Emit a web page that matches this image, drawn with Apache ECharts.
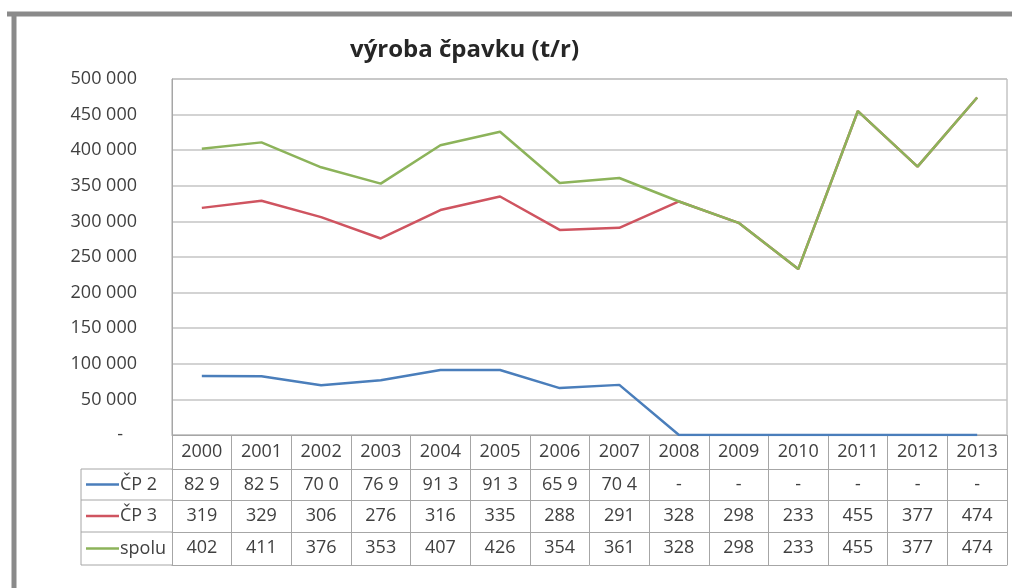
<!DOCTYPE html>
<html>
<head>
<meta charset="utf-8">
<script src="https://cdn.jsdelivr.net/npm/echarts@6/dist/echarts.min.js"></script>
<style>
html,body{margin:0;padding:0;background:#fff}
#main{width:1012px;height:588px}
</style>
</head>
<body>
<div id="main"></div>
<script>
// roky a hodnoty (t/r)
var roky = ['2000','2001','2002','2003','2004','2005','2006','2007','2008','2009','2010','2011','2012','2013'];
var cp2 = [82900,82500,70000,76900,91300,91300,65900,70400,0,0,0,0,0,0];
var cp3 = [319000,329000,306000,276000,316000,335000,288000,291000,328000,298000,233000,455000,377000,474000];
var spolu = [402000,411000,376000,353000,407000,426000,354000,361000,328000,298000,233000,455000,377000,474000];

// texty v tabulke pod grafom
var cp2Txt = ['82 9','82 5','70 0','76 9','91 3','91 3','65 9','70 4','-','-','-','-','-','-'];
var cp3Txt = ['319','329','306','276','316','335','288','291','328','298','233','455','377','474'];
var spoluTxt = ['402','411','376','353','407','426','354','361','328','298','233','455','377','474'];

var nazvy = ['ČP 2','ČP 3','spolu'];
var farby = ['#4a7ebb','#cf5460','#8cb35a'];

var font = '"Open Sans", "Noto Sans", sans-serif';
var sivaText = '#404040';
var sivaCiara = '#a6a6a6';

function formatY(v) {
    if (v === 0) return '-   ';
    return echarts.format.addCommas(v).replace(/,/g, ' ');
}

// riadok tabulky = dalsia os x s offsetom
function riadok(offset, texty) {
    return {
        type: 'category',
        gridIndex: 0,
        position: 'bottom',
        offset: offset,
        data: roky,
        boundaryGap: true,
        axisLine: {show: true, lineStyle: {color: sivaCiara, width: 1}},
        axisTick: {show: false},
        axisLabel: {
            show: !!texty,
            interval: 0,
            margin: 16,
            verticalAlign: 'middle',
            fontSize: 18,
            fontFamily: font,
            color: sivaText,
            formatter: function (v, i) { return texty ? texty[i] : ''; }
        },
        splitLine: {show: false}
    };
}

var riadky = [469, 500, 532, 565];
var grafika = [
    // sivy ram
    {type: 'line', shape: {x1: 7, y1: 14, x2: 1012, y2: 14}, style: {stroke: '#8a8a8a', lineWidth: 5}},
    {type: 'line', shape: {x1: 14, y1: 12, x2: 14, y2: 588}, style: {stroke: '#8a8a8a', lineWidth: 5}},
    {type: 'line', shape: {x1: 81, y1: 469, x2: 81, y2: 565}, style: {stroke: sivaCiara, lineWidth: 1}}
];
for (let y of riadky) {
    grafika.push({type: 'line', shape: {x1: 81, y1: y, x2: 172, y2: y}, style: {stroke: sivaCiara, lineWidth: 1}});
}
for (let i = 0; i < nazvy.length; i++) {
    var yc = (riadky[i] + riadky[i + 1]) / 2;
    grafika.push({type: 'line', shape: {x1: 86, y1: yc, x2: 119, y2: yc}, style: {stroke: farby[i], lineWidth: 2.5}});
    grafika.push({type: 'text', x: 120, y: yc, style: {
        text: nazvy[i], fill: sivaText, font: '18px ' + font, verticalAlign: 'middle', align: 'left'
    }});
}

var myChart = echarts.init(document.getElementById('main'));
var option = {
    animation: false,
    backgroundColor: '#fff',
    title: {
        text: 'výroba čpavku (t/r)',
        left: 345,
        top: 33,
        textStyle: {fontFamily: font, fontSize: 24, fontWeight: 'bold', color: '#262626'}
    },
    grid: {
        left: 172, right: 5, top: 79, bottom: 153,
        show: true, borderColor: sivaCiara, borderWidth: 1,
        outerBoundsMode: 'none'
    },
    xAxis: [
        {
            type: 'category',
            data: roky,
            boundaryGap: true,
            axisLine: {show: true, lineStyle: {color: sivaCiara, width: 1}},
            axisTick: {show: true, interval: 0, length: 130, lineStyle: {color: sivaCiara}},
            axisLabel: {interval: 0, margin: 17, verticalAlign: 'middle', fontSize: 18, fontFamily: font, color: sivaText},
            splitLine: {show: false}
        },
        riadok(34, cp2Txt),
        riadok(65, cp3Txt),
        riadok(97, spoluTxt),
        riadok(130, null)
    ],
    yAxis: {
        type: 'value',
        min: 0,
        max: 500000,
        interval: 50000,
        axisLine: {show: true, lineStyle: {color: sivaCiara}},
        axisTick: {show: false},
        axisLabel: {margin: 35, fontSize: 18, fontFamily: font, color: sivaText, formatter: formatY},
        splitLine: {lineStyle: {color: '#c4c4c4', width: 1.5}}
    },
    graphic: grafika,
    series: [
        {name: nazvy[0], type: 'line', data: cp2, symbol: 'none', lineStyle: {width: 2.5, color: farby[0]}, itemStyle: {color: farby[0]}},
        {name: nazvy[1], type: 'line', data: cp3, symbol: 'none', lineStyle: {width: 2.5, color: farby[1]}, itemStyle: {color: farby[1]}},
        {name: nazvy[2], type: 'line', data: spolu, symbol: 'none', lineStyle: {width: 2.5, color: farby[2]}, itemStyle: {color: farby[2]}}
    ]
};
myChart.setOption(option);
</script>
</body>
</html>
